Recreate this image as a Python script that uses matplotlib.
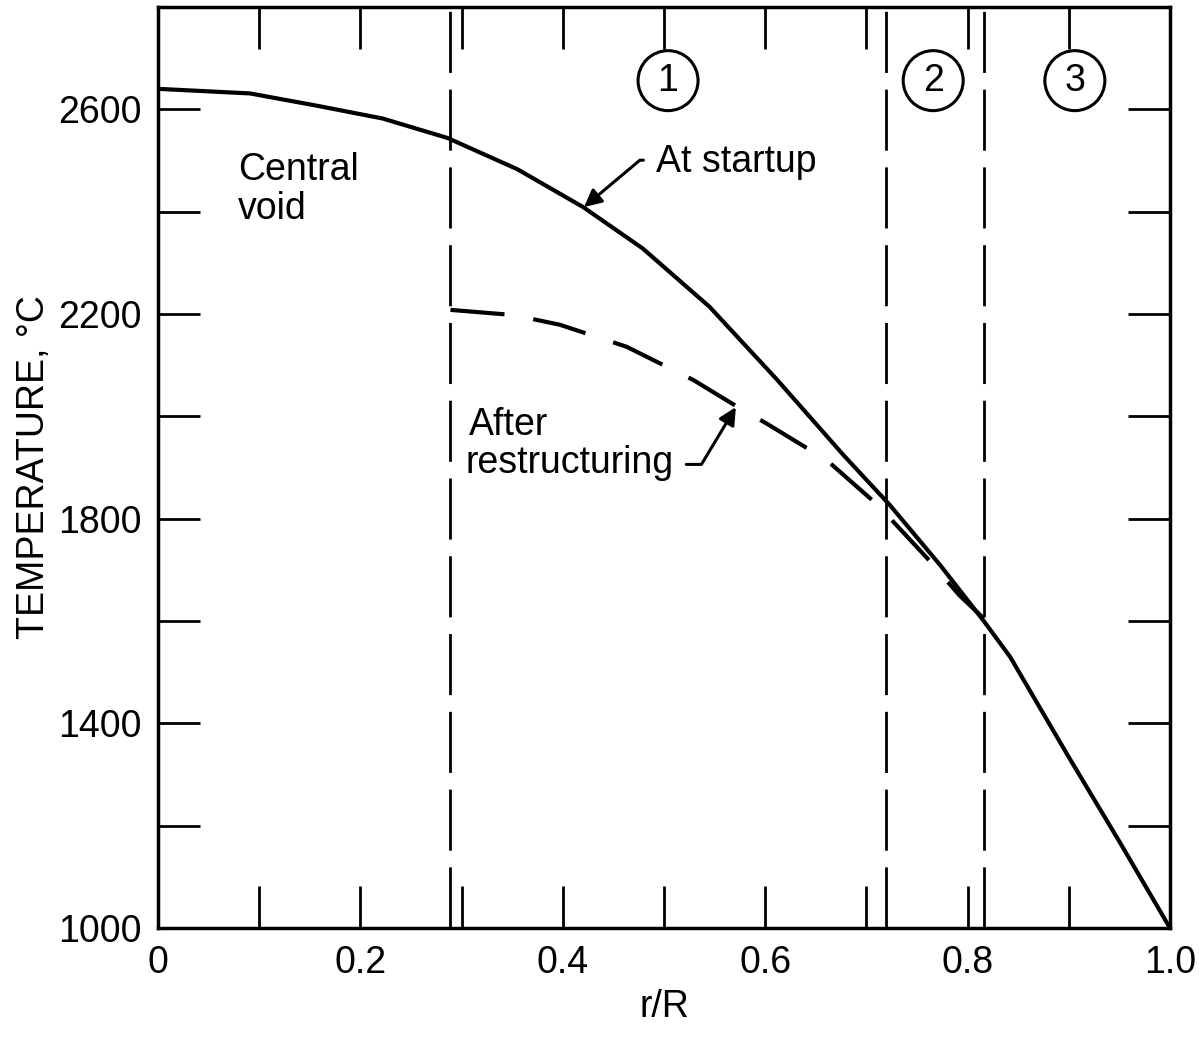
import matplotlib
matplotlib.use("Agg")
import matplotlib.pyplot as plt

plt.rcParams['font.family'] = ['Liberation Sans', 'DejaVu Sans']

# --- data ---
# temperature at startup (solid)
r_startup = [0.0, 0.091, 0.157, 0.222, 0.286, 0.355, 0.420, 0.479, 0.545,
             0.612, 0.677, 0.723, 0.773, 0.816, 0.842, 0.9, 0.95, 1.0]
t_startup = [2640, 2631, 2607, 2582, 2544, 2483, 2409, 2328, 2214,
             2071, 1925, 1827, 1709, 1600, 1530, 1334, 1169, 1000]

# temperature after restructuring (dashed)
r_restr = [0.289, 0.351, 0.397, 0.463, 0.529, 0.568, 0.603, 0.661, 0.711,
           0.760, 0.792, 0.816]
t_restr = [2208, 2198, 2179, 2136, 2071, 2024, 1984, 1914, 1827,
           1723, 1650, 1605]

# zone boundaries and zone labels
zone_edges = [0.289, 0.719, 0.816]
zone_names = ['1', '2', '3']
zone_x = [0.504, 0.766, 0.906]
zone_y = 2656

x_major = [0, 0.2, 0.4, 0.6, 0.8, 1.0]
x_labels = ['0', '0.2', '0.4', '0.6', '0.8', '1.0']
x_minor = [0.1, 0.3, 0.5, 0.7, 0.9]
y_major = [1000, 1400, 1800, 2200, 2600]
y_minor = [1200, 1600, 2000, 2400]

FS = 27

fig = plt.figure(figsize=(11.99, 10.39), dpi=100)
ax = fig.add_axes([0.1318, 0.1068, 0.8440, 0.8865])

ax.plot(r_startup, t_startup, color='black', lw=3, solid_joinstyle='round')
ax.plot(r_restr, t_restr, color='black', lw=3, dashes=(13, 7))
for xe in zone_edges:
    ax.axvline(xe, color='black', lw=2, dashes=(22, 6))

for name, zx in zip(zone_names, zone_x):
    ax.text(zx, zone_y, name, fontsize=FS, ha='center', va='center',
            bbox=dict(boxstyle='circle,pad=0.32', fc='white', ec='black', lw=2.2))

ax.text(0.079, 2462, 'Central', fontsize=FS, ha='left', va='baseline')
ax.text(0.079, 2385, 'void', fontsize=FS, ha='left', va='baseline')

ax.annotate('At startup', xy=(0.421, 2409), xytext=(0.492, 2497),
            fontsize=FS, ha='left', va='center',
            arrowprops=dict(arrowstyle='-|>', color='black', lw=2.2,
                            mutation_scale=26, relpos=(0, 0.55),
                            shrinkA=7, shrinkB=0,
                            connectionstyle='angle,angleA=0,angleB=40,rad=0'))

ax.text(0.307, 1963, 'After', fontsize=FS, ha='left', va='baseline')
ax.annotate('restructuring', xy=(0.571, 2018), xytext=(0.304, 1890),
            fontsize=FS, ha='left', va='baseline',
            arrowprops=dict(arrowstyle='-|>', color='black', lw=2.2,
                            mutation_scale=26, relpos=(1, 0.45),
                            shrinkA=7, shrinkB=0,
                            connectionstyle='angle,angleA=0,angleB=59,rad=0'))

ax.set_xlim(0, 1.0)
ax.set_ylim(1000, 2800)
ax.set_xticks(x_major)
ax.set_xticklabels(x_labels)
ax.set_xticks(x_minor, minor=True)
ax.set_yticks(y_major)
ax.set_yticks(y_minor, minor=True)
ax.tick_params(which='both', direction='in', top=True, right=True,
               length=30, width=2, labelsize=FS)
ax.tick_params(axis='x', pad=12)
ax.tick_params(axis='y', pad=12)
for s in ax.spines.values():
    s.set_linewidth(2.5)

ax.set_xlabel('r/R', fontsize=FS, labelpad=6)
ax.set_ylabel('TEMPERATURE, °C', fontsize=FS, labelpad=4)

fig.savefig('out.png', dpi=100)
